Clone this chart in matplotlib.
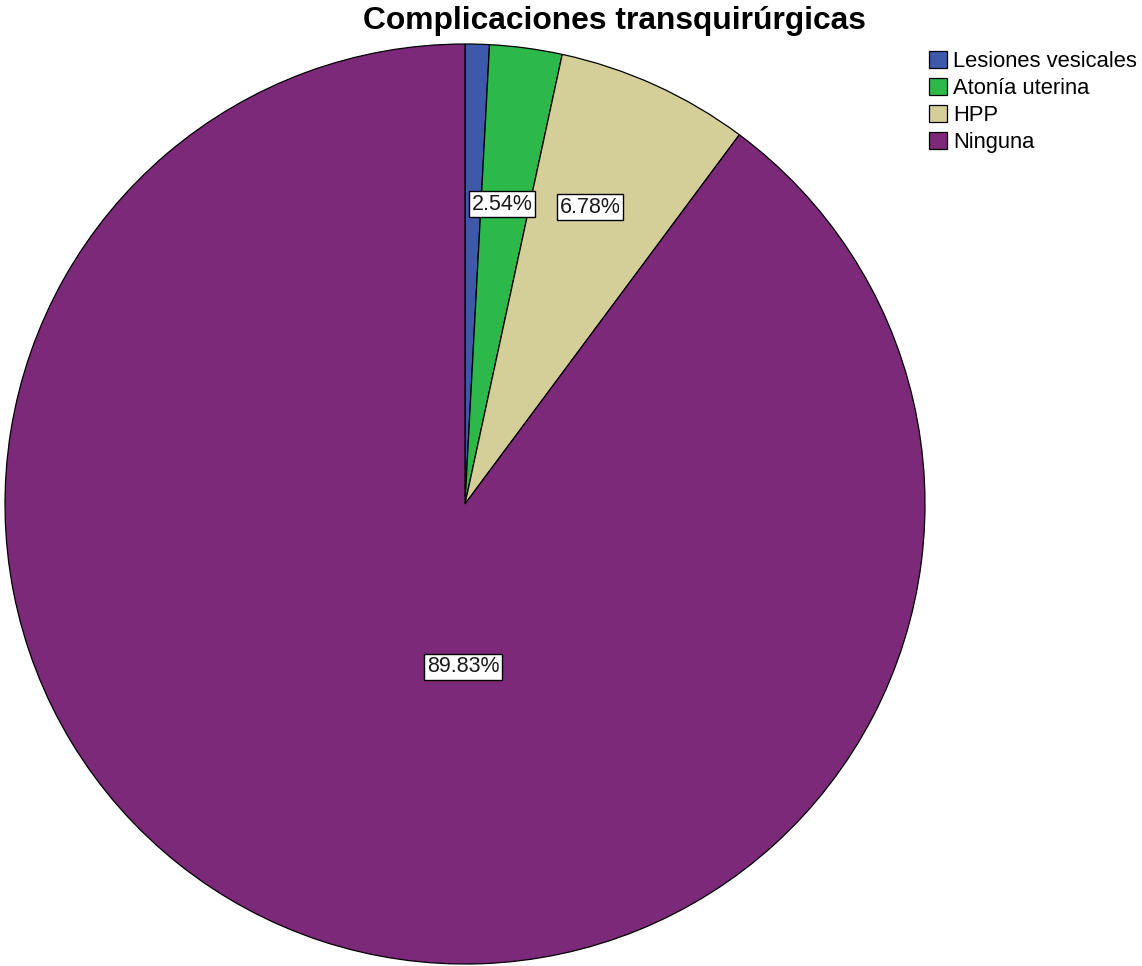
import matplotlib.pyplot as plt
import numpy as np

plt.rcParams['font.family'] = ['Liberation Sans', 'DejaVu Sans']

categories = ["Lesiones vesicales", "Atonía uterina", "HPP", "Ninguna"]
percents = [0.85, 2.54, 6.78, 89.83]
shown = [False, True, True, True]
colors = ["#3e58ac", "#2db84a", "#d4ce98", "#7b2978"]

# label placement (distance from centre, angle shift in degrees)
label_dist = [0.66, 0.657, 0.70, 0.354]
label_shift = [0, 0.6, 1.5, 17.7]

fig = plt.figure(figsize=(11.42, 9.66), dpi=100)
ax = fig.add_axes([5 / 1142, 2 / 966, 920 / 1142, 920 / 966])

wedges, _ = ax.pie(percents, colors=colors, startangle=90, counterclock=False,
                   radius=1, wedgeprops=dict(edgecolor="black", linewidth=0.9))
ax.set_xlim(-1.0, 1.0)
ax.set_ylim(-1.0, 1.0)
ax.set_aspect("auto")
ax.axis("off")

for w, p, s, d, sh in zip(wedges, percents, shown, label_dist, label_shift):
    if not s:
        continue
    ang = np.deg2rad((w.theta1 + w.theta2) / 2 + sh)
    ax.text(d * np.cos(ang), d * np.sin(ang), f"{p:.2f}%", ha="center", va="center",
            fontsize=15.5, color="#1a1a1a",
            bbox=dict(boxstyle="square,pad=0.12", facecolor="white",
                      edgecolor="black", linewidth=1))

fig.text(0.5 * (363 + 865) / 1142, 1 - 21 / 966, "Complicaciones transquirúrgicas",
         ha="center", va="center", fontsize=22.9, fontweight="bold")

leg = fig.legend(wedges, categories, loc="upper left", bbox_to_anchor=(929 / 1142, 1 - 51 / 966),
                 frameon=False, fontsize=15.8, handlelength=0.8, handleheight=0.8,
                 handletextpad=0.3, labelspacing=0.27, borderpad=0, borderaxespad=0)

fig.savefig("out.png", dpi=100, facecolor="white")
